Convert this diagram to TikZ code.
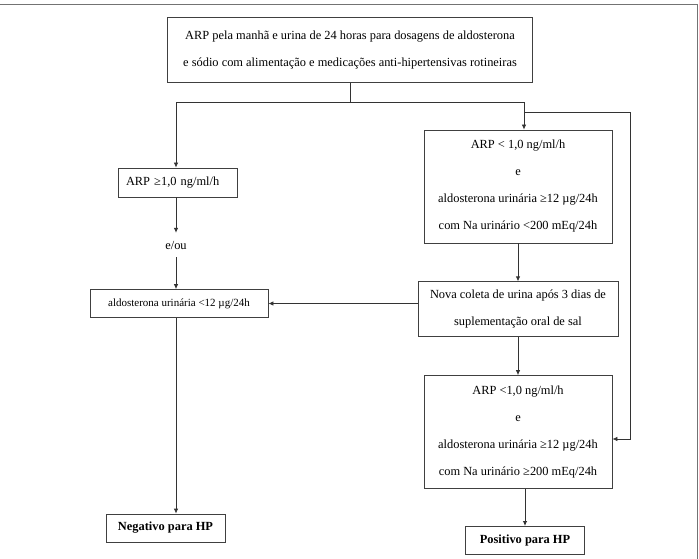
\documentclass[tikz,border=0pt]{standalone}
\usepackage{fontspec}
\setmainfont{Liberation Serif}
\usetikzlibrary{positioning, arrows.meta}

\begin{document}
\begin{tikzpicture}[
  x=1pt, y=-1pt,
  font=\fontsize{12.4}{27}\selectfont,
  box/.style={draw=black!75, line width=0.8pt, align=center, inner sep=0pt,
    minimum width=#1},
  box/.default=119pt,
  result/.style={box, minimum height=28pt,
    font=\fontsize{12.4}{14}\selectfont\bfseries},
  rel/.style={-{Latex[length=5pt, width=4.5pt]}, line width=0.8pt, draw=black!80},
  link/.style={line width=0.8pt, draw=black!80},
  frame/.style={line width=1pt, draw=black!55},
]
  \useasboundingbox (0,0) rectangle (699,559);
  \draw[frame] (0,5) -- (697,5) -- (697,559);

  % Start
  \node[box=365pt, minimum height=65pt] (exam) at (350,50)
    {ARP pela manhã e urina de 24 horas para dosagens de aldosterona\\
     e sódio com alimentação e medicações anti-hipertensivas rotineiras};

  % Left branch
  \node[box, minimum height=29pt, text width=103pt, align=left, inner xsep=8pt]
    (arpHigh) at (177.5,182.5) {ARP ≥1,0 ng/ml/h};
  \node[inner sep=0pt, minimum height=24pt] (eou) at (176,245) {e/ou};
  \node[box=178pt, minimum height=28pt, font=\fontsize{11}{13}\selectfont]
    (aldoLow) at (179,303.5) {aldosterona urinária <12 µg/24h};
  \node[result] (neg) at (165.5,528) {Negativo para HP};

  % Right branch
  \node[box=188pt, minimum height=113pt] (arpLow) at (518,186.5)
    {ARP < 1,0 ng/ml/h\\ e\\ aldosterona urinária ≥12 µg/24h\\
     com Na urinário <200 mEq/24h};
  \node[box=200pt, minimum height=55pt, below=38pt of arpLow] (newColl)
    {Nova coleta de urina após 3 dias de\\ suplementação oral de sal};
  \node[box=188pt, minimum height=113pt, below=38pt of newColl] (arpLowSalt)
    {ARP <1,0 ng/ml/h\\ e\\ aldosterona urinária ≥12 µg/24h\\
     com Na urinário ≥200 mEq/24h};
  \node[result, below=37pt of arpLowSalt, xshift=7pt] (pos) {Positivo para HP};

  % Junctions
  \coordinate (jL) at (176,102);
  \coordinate (jR) at (524,102);
  \coordinate (jLoop) at (524,112);
  \coordinate (loopTop) at (630,112);
  \coordinate (loopEnd) at (630,439);

  % Connectors
  \draw[link] (exam.south) -- (exam.south |- jL);
  \draw[rel] (jR) -- (jL) -- (jL |- arpHigh.north);
  \draw[rel] (jL) -- (jR) -- (jR |- arpLow.north);
  \draw[rel] (jLoop) -- (loopTop) -- (loopEnd) -- (loopEnd -| arpLowSalt.east);
  \draw[rel] (arpHigh.south -| eou) -- (eou.north);
  \draw[rel] (eou.south) -- (eou.south |- aldoLow.north);
  \draw[rel] (aldoLow.south -| eou) -- (neg.north -| eou);
  \draw[rel] (arpLow) -- (newColl);
  \draw[rel] (newColl.west |- aldoLow.east) -- (aldoLow.east);
  \draw[rel] (newColl) -- (arpLowSalt);
  \draw[rel] (arpLowSalt.south -| pos.north) -- (pos.north);
\end{tikzpicture}
\end{document}
